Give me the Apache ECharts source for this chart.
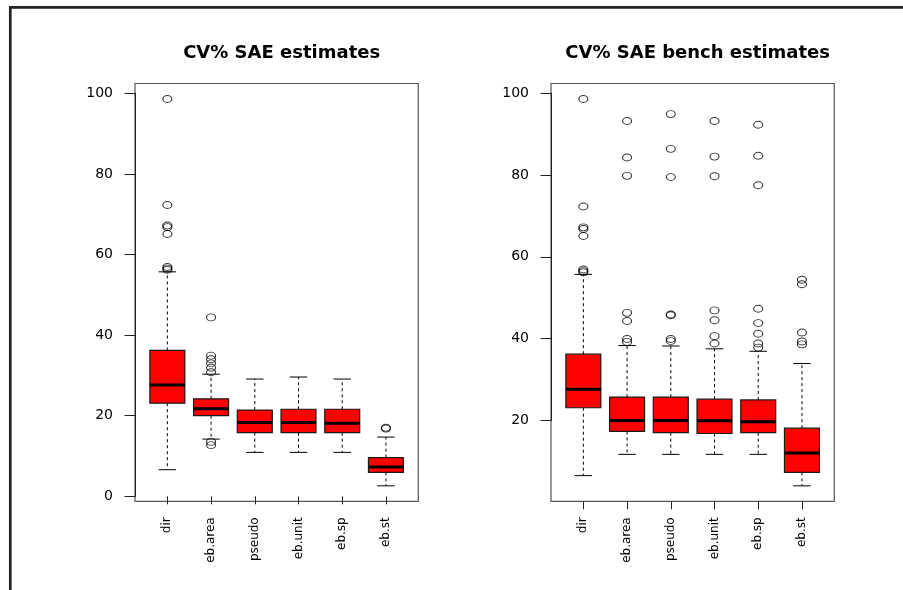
<!DOCTYPE html>
<html>
<head>
<meta charset="utf-8">
<script src="https://cdn.jsdelivr.net/npm/echarts@6/dist/echarts.min.js"></script>
<style>html,body{margin:0;padding:0;background:#fff;}#c{width:903px;height:590px;}</style>
</head>
<body>
<div id="c"></div>
<script>
// ---- data ----
const categories = ['dir', 'eb.area', 'pseudo', 'eb.unit', 'eb.sp', 'eb.st'];
const titles = ['CV% SAE estimates', 'CV% SAE bench estimates'];

const saeLow  = [6.6, 14.2, 10.9, 10.9, 10.9, 2.6];
const saeQ1   = [23.1, 20.0, 15.8, 15.8, 15.8, 5.95];
const saeMed  = [27.6, 21.7, 18.3, 18.3, 18.1, 7.3];
const saeQ3   = [36.2, 24.2, 21.4, 21.6, 21.6, 9.6];
const saeHigh = [55.7, 30.3, 29.1, 29.6, 29.1, 14.7];
const saeOutliers = [
  [98.6, 72.3, 67.2, 66.8, 65.1, 56.9, 56.5, 56.2],
  [44.4, 34.9, 34.0, 33.0, 31.9, 30.8, 13.5, 12.7],
  [], [], [],
  [17.0, 16.8]
];

const benchLow  = [6.5, 11.7, 11.7, 11.7, 11.7, 4.0];
const benchQ1   = [23.1, 17.3, 17.0, 16.8, 17.0, 7.3];
const benchMed  = [27.6, 20.0, 20.0, 19.9, 19.7, 12.0];
const benchQ3   = [36.2, 25.7, 25.7, 25.2, 25.0, 18.1];
const benchHigh = [55.7, 38.3, 38.2, 37.5, 36.9, 33.9];
const benchOutliers = [
  [98.6, 72.3, 67.2, 66.8, 65.1, 56.9, 56.5, 56.2],
  [93.2, 84.3, 79.8, 46.3, 44.3, 39.9, 39.2],
  [94.9, 86.4, 79.5, 45.9, 45.7, 39.9, 39.4],
  [93.2, 84.5, 79.7, 46.9, 44.5, 40.6, 38.8],
  [92.3, 84.7, 77.5, 47.3, 43.8, 41.2, 38.8, 37.8],
  [54.4, 53.3, 41.5, 39.3, 38.6]
];

const yTicksMin = [0, 20];
const yTickMax = 100;
const yTickStep = 20;

// ---- layout ----
const panels = [
  { low: saeLow, q1: saeQ1, med: saeMed, q3: saeQ3, high: saeHigh, out: saeOutliers, lo: -1.24, hi: 102.44, boxLeft: 135, axisMin: yTicksMin[0] },
  { low: benchLow, q1: benchQ1, med: benchMed, q3: benchQ3, high: benchHigh, out: benchOutliers, lo: 0.22, hi: 102.38, boxLeft: 551, axisMin: yTicksMin[1] }
];
const BOX_W = 283.3, TOP = 83.5, H = 417.8, INSET = 10.5;

const grid = [], xAxis = [], yAxis = [], series = [], title = [];
const axisColor = '#222';

function renderBox(params, api) {
  const x = api.value(0);
  const pLo = api.coord([x, api.value(1)]);
  const pQ1 = api.coord([x, api.value(2)]);
  const pMed = api.coord([x, api.value(3)]);
  const pQ3 = api.coord([x, api.value(4)]);
  const pHi = api.coord([x, api.value(5)]);
  const bw = api.size([1, 0], [x, 0])[0] * 0.8;
  const cx = pMed[0];
  const cap = bw / 4;
  const dash = { stroke: '#000', lineWidth: 1, lineDash: [3, 3] };
  const solid = { stroke: '#000', lineWidth: 1 };
  return {
    type: 'group',
    children: [
      { type: 'line', shape: { x1: cx, y1: pQ3[1], x2: cx, y2: pHi[1] }, style: dash },
      { type: 'line', shape: { x1: cx, y1: pQ1[1], x2: cx, y2: pLo[1] }, style: dash },
      { type: 'line', shape: { x1: cx - cap, y1: pHi[1], x2: cx + cap, y2: pHi[1] }, style: solid },
      { type: 'line', shape: { x1: cx - cap, y1: pLo[1], x2: cx + cap, y2: pLo[1] }, style: solid },
      { type: 'rect', shape: { x: cx - bw / 2, y: pQ3[1], width: bw, height: pQ1[1] - pQ3[1] },
        style: { fill: '#ff0000', stroke: '#1a1a1a', lineWidth: 1.2 } },
      { type: 'line', shape: { x1: cx - bw / 2, y1: pMed[1], x2: cx + bw / 2, y2: pMed[1] },
        style: { stroke: '#000', lineWidth: 3 } }
    ]
  };
}

panels.forEach((p, k) => {
  const ppu = H / (p.hi - p.lo);
  const gFrame = grid.length;
  grid.push({ left: p.boxLeft, top: TOP, width: BOX_W, height: H, show: true,
              borderColor: '#555', borderWidth: 1.2, backgroundColor: 'transparent' });
  xAxis.push({ gridIndex: gFrame, type: 'value', show: false, min: 0, max: 1 });
  yAxis.push({ gridIndex: gFrame, type: 'value', show: false, min: 0, max: 1 });

  const gAxis = grid.length;
  const axTop = TOP + (p.hi - yTickMax) * ppu;
  const axBot = TOP + (p.hi - p.axisMin) * ppu;
  grid.push({ left: p.boxLeft, top: axTop, width: BOX_W, height: axBot - axTop });
  xAxis.push({ gridIndex: gAxis, type: 'value', show: false, min: 0, max: 1 });
  yAxis.push({
    gridIndex: gAxis, type: 'value', min: p.axisMin, max: yTickMax, interval: yTickStep,
    axisLine: { show: true, lineStyle: { color: axisColor, width: 1 } },
    axisTick: { show: true, length: 10.5, lineStyle: { color: axisColor, width: 1 } },
    splitLine: { show: false },
    axisLabel: { margin: 22, color: '#000', fontFamily: 'DejaVu Sans', fontSize: 14 }
  });

  const gData = grid.length;
  grid.push({ left: p.boxLeft + INSET, top: TOP, width: BOX_W - 2 * INSET, height: H });
  xAxis.push({
    gridIndex: gData, type: 'category', data: categories,
    axisLine: { show: false },
    axisTick: { show: true, alignWithLabel: true, length: 8, lineStyle: { color: axisColor, width: 1 } },
    axisLabel: { rotate: 90, margin: 16, color: '#000', fontFamily: 'DejaVu Sans', fontSize: 12, interval: 0 },
    splitLine: { show: false }
  });
  yAxis.push({ gridIndex: gData, type: 'value', show: false, min: p.lo, max: p.hi, splitLine: { show: false } });

  series.push({
    type: 'custom', xAxisIndex: gData, yAxisIndex: gData,
    renderItem: renderBox,
    encode: { x: 0, y: [1, 2, 3, 4, 5] },
    data: categories.map((c, i) => [i, p.low[i], p.q1[i], p.med[i], p.q3[i], p.high[i]]),
    z: 3, silent: true
  });
  const outData = [];
  p.out.forEach((arr, i) => arr.forEach(v => outData.push([i, v])));
  series.push({
    type: 'scatter', xAxisIndex: gData, yAxisIndex: gData,
    symbol: 'circle', symbolSize: [9, 7],
    itemStyle: { color: 'transparent', borderColor: '#000', borderWidth: 1 },
    data: outData, z: 4, silent: true
  });

  title.push({
    text: titles[k], left: p.boxLeft + BOX_W / 2, top: 39, textAlign: 'center',
    textStyle: { fontFamily: 'DejaVu Sans', fontWeight: 'bold', fontSize: 18, color: '#000' }
  });
});

const chart = echarts.init(document.getElementById('c'), null, { renderer: 'canvas' });
chart.setOption({
  animation: false,
  backgroundColor: '#fff',
  title, grid, xAxis, yAxis, series,
  graphic: [
    { type: 'line', shape: { x1: 10.3, y1: 7.3, x2: 10.3, y2: 590 }, style: { stroke: '#222', lineWidth: 2.7 } },
    { type: 'line', shape: { x1: 9, y1: 7.3, x2: 903, y2: 7.3 }, style: { stroke: '#222', lineWidth: 2.7 } }
  ]
});
</script>
</body>
</html>
